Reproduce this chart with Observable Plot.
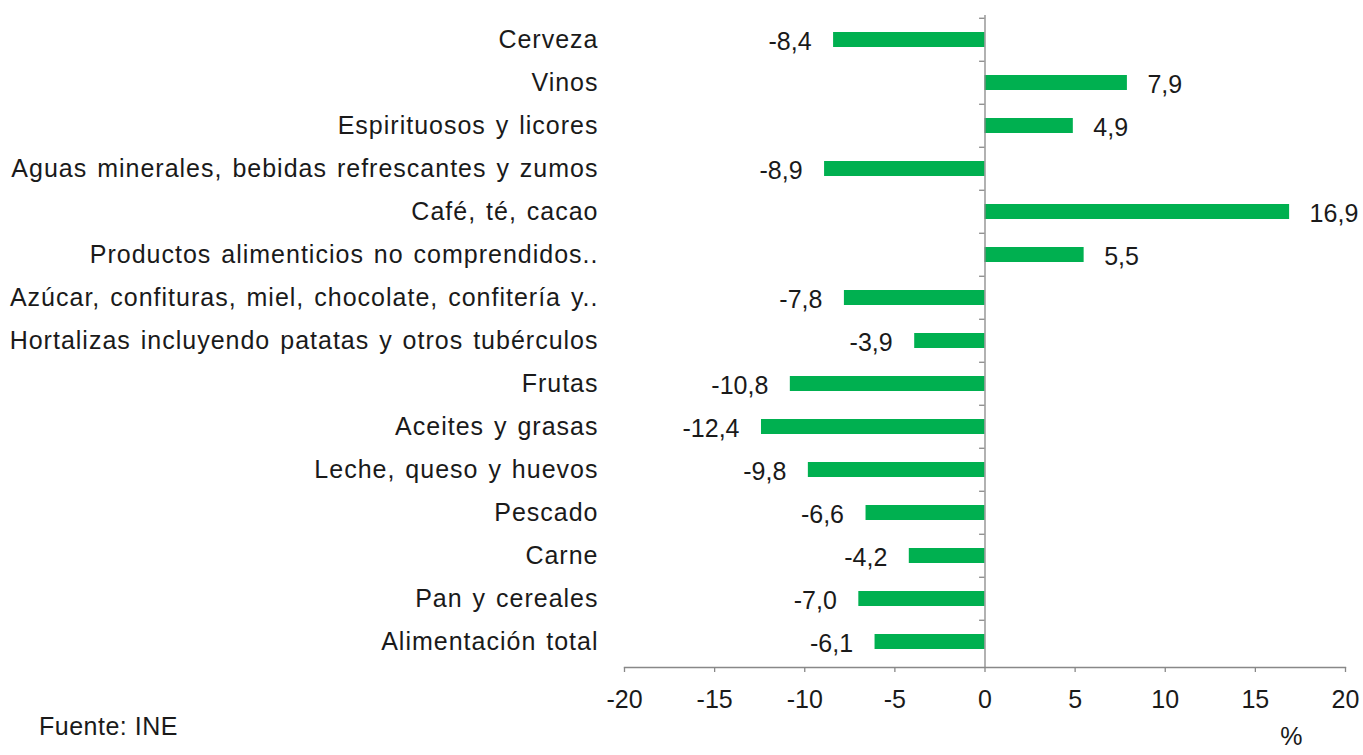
<!DOCTYPE html>
<html>
<head>
<meta charset="utf-8">
<script src="https://cdn.jsdelivr.net/npm/d3@7"></script>
<script src="https://cdn.jsdelivr.net/npm/@observablehq/plot@0.6"></script>
<style>
  html, body { margin: 0; padding: 0; background: #fff; }
  #wrap { position: relative; width: 1363px; height: 755px; font-family: "Liberation Sans", Arial, sans-serif; }
  #caption { position: absolute; left: 39px; top: 712px; font-size: 25px; color: #1a1a1a; letter-spacing: 0.5px; }
  g[aria-label="y-axis tick label"] text { letter-spacing: 1px; word-spacing: 2px; }
</style>
</head>
<body>
<div id="wrap">
  <div id="chart"></div>
  <div id="caption">Fuente: INE</div>
</div>
<script>
const categories = [
  "Cerveza",
  "Vinos",
  "Espirituosos y licores",
  "Aguas minerales, bebidas refrescantes y zumos",
  "Café, té, cacao",
  "Productos alimenticios no comprendidos..",
  "Azúcar, confituras, miel, chocolate, confitería y..",
  "Hortalizas incluyendo patatas y otros tubérculos",
  "Frutas",
  "Aceites y grasas",
  "Leche, queso y huevos",
  "Pescado",
  "Carne",
  "Pan y cereales",
  "Alimentación total"
];
const values = [-8.4, 7.9, 4.9, -8.9, 16.9, 5.5, -7.8, -3.9, -10.8, -12.4, -9.8, -6.6, -4.2, -7.0, -6.1];
const xTicks = [-20, -15, -10, -5, 0, 5, 10, 15, 20];
const unitLabel = ["%"];

const data = categories.map((c, i) => ({category: c, value: values[i]}));

const W = 1363, H = 755, mt = 15, mb = 88, ml = 624, mr = 18;
const step = (H - mt - mb) / categories.length;
const axisColor = "#888888";
const textColor = "#1a1a1a";
const fmt = v => v.toFixed(1).replace(".", ",");

const chart = Plot.plot({
  width: W,
  height: H,
  marginTop: mt,
  marginBottom: mb,
  marginLeft: ml,
  marginRight: mr,
  style: {fontFamily: '"Liberation Sans", Arial, sans-serif', fontSize: "25px", color: textColor, background: "#fff"},
  x: {domain: [-20, 20]},
  y: {domain: categories, paddingInner: 0.65, paddingOuter: 0.325},
  marks: [
    Plot.barX(data, {x: "value", y: "category", fill: "#00B050"}),
    Plot.ruleX([0], {stroke: axisColor, strokeWidth: 1.3}),
    Plot.ruleY(categories, {y: d => d, x1: -0.3, x2: 0, dy: -step / 2, stroke: axisColor, strokeWidth: 1.3}),
    Plot.frame({anchor: "bottom", stroke: axisColor, strokeWidth: 1.3}),
    Plot.axisX({ticks: xTicks, tickSize: 5, tickPadding: 18, tickFormat: d => String(d), stroke: axisColor, strokeWidth: 1.3, fill: textColor, label: null, fontSize: 25}),
    Plot.axisY({tickSize: 0, tickPadding: 26, label: null, fill: textColor, fontSize: 25}),
    Plot.text(data.filter(d => d.value < 0), {x: "value", y: "category", text: d => fmt(d.value), textAnchor: "end", dx: -22, dy: 2, fill: textColor, fontSize: 25}),
    Plot.text(data.filter(d => d.value >= 0), {x: "value", y: "category", text: d => fmt(d.value), textAnchor: "start", dx: 20, dy: 2, fill: textColor, fontSize: 25}),
    Plot.text(unitLabel, {x: 17, text: d => d, frameAnchor: "bottom", dy: 77, fill: textColor, fontSize: 25})
  ]
});
document.getElementById("chart").appendChild(chart);
</script>
</body>
</html>
